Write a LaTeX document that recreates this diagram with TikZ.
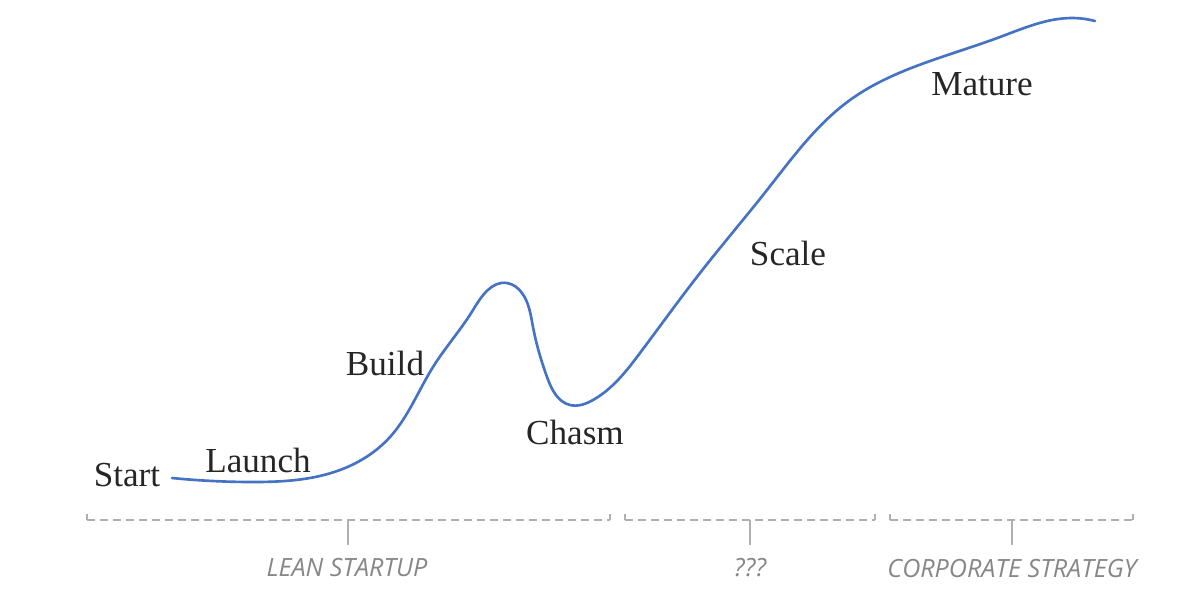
\documentclass[tikz,border=0pt]{standalone}
\usepackage{fontspec}
\setmainfont{Liberation Serif}
\newfontfamily\phasefont{Open Sans}
\usepackage{tikz}
\usetikzlibrary{hobby}

\definecolor{curveblue}{RGB}{68,114,196}
\definecolor{phasegray}{RGB}{135,135,135}
\definecolor{bracegray}{RGB}{175,175,175}

\begin{document}
\begin{tikzpicture}[x=0.2mm,y=-0.2mm]
	\tikzstyle{stage}=[font=\fontsize{20}{24}\selectfont,text=black!85,inner sep=1pt]
	\tikzstyle{phase}=[font=\phasefont\itshape\fontsize{14.3}{16}\selectfont,text=phasegray,inner sep=1pt]
	\tikzstyle{brace}=[draw=bracegray,line width=0.8pt,dash pattern=on 1.6mm off 1mm]
	\tikzstyle{tick}=[draw=bracegray,line width=0.8pt]
	
	\useasboundingbox (0,0) rectangle (1200,601);
	
	% growth curve
	\draw[curveblue,line width=1.5pt,line cap=round,use Hobby shortcut]
		(172,478) .. (252,482) .. (340,470) .. (390,437) .. (433,367) .. (473,310)
		.. (507,283) .. (522,293) .. (533,327) .. (547,377) .. (570,405) .. (593,400)
		.. (640,353) .. (700,273) .. (767,190) .. (850,100) .. (933,60) .. (1000,37)
		.. (1073,18) .. (1095,21);
	
	\node[stage] at (127,475) (start) {Start};
	\node[stage] at (258,460) (launch) {Launch};
	\node[stage] at (385,363) (build) {Build};
	\node[stage] at (575,432) (chasm) {Chasm};
	\node[stage] at (788,253) (scale) {Scale};
	\node[stage] at (982,84) (mature) {Mature};
	
	% phases underneath
	\coordinate (b1l) at (87,520);
	\coordinate (b1r) at (610,520);
	\coordinate (b1m) at (348,520);
	\coordinate (b2l) at (625,520);
	\coordinate (b2r) at (875,520);
	\coordinate (b2m) at (750,520);
	\coordinate (b3l) at (890,520);
	\coordinate (b3r) at (1133,520);
	\coordinate (b3m) at (1012,520);
	
	\path[brace] (b1l) -- (b1r);
	\path[brace] (b2l) -- (b2r);
	\path[brace] (b3l) -- (b3r);
	\foreach \e in {b1l,b1r,b2l,b2r,b3l,b3r}
		\path[tick] (\e) -- ([yshift=1.3mm]\e);
	
	\node[phase] at (347,568) (lean) {LEAN STARTUP};
	\node[phase] at (750,568) (unknown) {???};
	\node[phase] at (1012,568) (corporate) {CORPORATE STRATEGY};
	
	\path[tick] (b1m) -- ([yshift=-5mm]b1m);
	\path[tick] (b2m) -- ([yshift=-5mm]b2m);
	\path[tick] (b3m) -- ([yshift=-5mm]b3m);
\end{tikzpicture}
\end{document}
